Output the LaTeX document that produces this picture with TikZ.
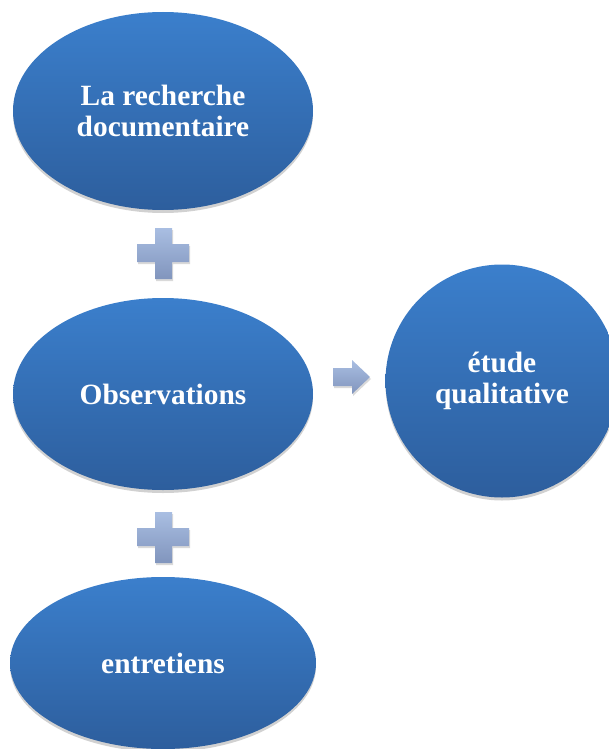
\documentclass[tikz,border=0pt]{standalone}
\usepackage{fontspec}
\setmainfont{Liberation Serif}
\usetikzlibrary{shapes.geometric,shadows}
\tikzset{
  bluebox/.style={ellipse, inner sep=0pt, top color=blue1, bottom color=blue2,
    draw=none, text=white, align=center,
    font=\fontsize{29.4}{31}\selectfont\bfseries,
    drop shadow={shadow xshift=0pt, shadow yshift=-3pt, opacity=0.18, fill=black}},
  signshape/.style={top color=sign1, bottom color=sign2, draw=none,
    drop shadow={shadow xshift=1pt, shadow yshift=-2pt, opacity=0.15, fill=black}}
}
\definecolor{blue1}{HTML}{3B7FCC}
\definecolor{blue2}{HTML}{2D5E9D}
\definecolor{sign1}{HTML}{A9BEE2}
\definecolor{sign2}{HTML}{8195BD}
\begin{document}
\begin{tikzpicture}[x=1pt,y=-1pt]
\useasboundingbox (0,0) rectangle (609,749);
\node[bluebox, minimum width=300pt, minimum height=198pt] (doc) at (163,111) {La recherche\\documentaire};
\node[bluebox, minimum width=300pt, minimum height=192pt] (obs) at (163,394) {Observations};
\node[bluebox, minimum width=306pt, minimum height=172pt] (ent) at (163,663) {entretiens};
\node[bluebox, circle, minimum size=233pt] (etu) at (502,381) {étude\\qualitative};
% plus signs
\path[signshape] (155,228) -- (172,228) -- (172,244) -- (189,244) -- (189,262) -- (172,262) -- (172,279) -- (155,279) -- (155,262) -- (137,262) -- (137,244) -- (155,244) -- cycle;
\path[signshape] (155,512) -- (172,512) -- (172,528) -- (189,528) -- (189,546) -- (172,546) -- (172,563) -- (155,563) -- (155,546) -- (137,546) -- (137,528) -- (155,528) -- cycle;
% arrow
\path[signshape] (333,368) -- (352,368) -- (352,360) -- (370,377) -- (352,394) -- (352,386) -- (333,386) -- cycle;
\end{tikzpicture}
\end{document}
